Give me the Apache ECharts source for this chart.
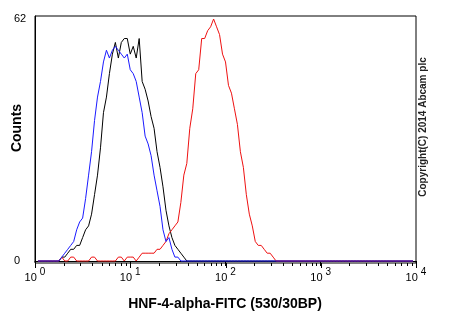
<!DOCTYPE html>
<html><head><meta charset="utf-8">
<script src="https://cdn.jsdelivr.net/npm/echarts@6/dist/echarts.min.js"></script>
<style>html,body{margin:0;padding:0;background:#fff}#c{width:450px;height:330px}</style>
</head><body><div id="c"></div>
<script>
// log channels: 32 channels per decade, 4 decades
const channelsPerDecade = 32;
const firstChannel = 1;
const lastChannel = 127;

const xTickValues = [1, 10, 100, 1000, 10000];
const xTickExponents = ['0', '1', '2', '3', '4'];
const xMinorTickValues = [2,3,4,5,6,7,8,9,20,30,40,50,60,70,80,90,200,300,400,500,600,700,800,900,2000,3000,4000,5000,6000,7000,8000,9000];
const yTickValues = [0, 62];
const yMin = -0.51;
const yMax = 62.77;

const xTitle = 'HNF-4-alpha-FITC (530/30BP)';
const yTitle = 'Counts';
const copyright = 'Copyright(C) 2014 Abcam plc';

// counts per channel, starting at the given channel
const blackStart = 9;
const blackCounts = [1,1,2,3,3,4,4,6,8,9,12,17,22,29,38,42,48,53,56,52,56,57,57,53,55,52,57,46,44,41,37,34,28,24,19,13,9,6,4,3,2,1,0];
const redStart = 9;
const redCounts = [1,0,0,1,1,0,0,0,0,0,1,1,0,0,0,0,0,0,0,1,1,0,1,1,1,0,1,2,2,2,2,2,3,3,4,5,7,8,9,10,15,22,25,34,39,48,49,57,57,59,60,62,60,58,53,51,45,43,39,35,28,24,17,12,9,5,4,4,3,2,2,1,0];
const blueStart = 8;
const blueCounts = [0,1,2,3,4,5,8,10,11,16,22,28,36,42,46,51,54,52,54,55,54,53,52,53,49,48,46,42,38,32,30,27,22,18,14,8,5,6,3,1,1,0];

function buildData(start, counts) {
  const data = [];
  for (let c = firstChannel; c <= lastChannel; c++) {
    const i = c - start;
    const v = (i >= 0 && i < counts.length) ? counts[i] : 0;
    data.push([Math.pow(10, c / channelsPerDecade), v]);
  }
  return data;
}

const FONT = '"Liberation Sans", Arial, sans-serif';
const titleGraphics = [
  {type: 'text', x: 17, y: 128, rotation: Math.PI / 2,
   style: {text: yTitle, font: 'bold 14px ' + FONT, fill: '#000', align: 'center', verticalAlign: 'middle', textAlign: 'center', textVerticalAlign: 'middle'}},
  {type: 'text', x: 225, y: 304,
   style: {text: xTitle, font: 'bold 14px ' + FONT, fill: '#000', align: 'center', verticalAlign: 'middle', textAlign: 'center', textVerticalAlign: 'middle'}},
  {type: 'text', x: 423.5, y: 127, rotation: Math.PI / 2,
   style: {text: copyright, font: 'bold 10px ' + FONT, fill: '#222', align: 'center', verticalAlign: 'middle', textAlign: 'center', textVerticalAlign: 'middle'}}
];

const chart = echarts.init(document.getElementById('c'), null, {renderer: 'canvas'});
chart.setOption({
  animation: false,
  grid: {left: 35, right: 34, top: 16, bottom: 67, show: true, borderColor: '#000', borderWidth: 1},
  xAxis: {
    type: 'log', logBase: 10, min: xTickValues[0], max: xTickValues[xTickValues.length - 1], position: 'bottom',
    axisLine: {show: true, lineStyle: {color: '#000', width: 1}},
    axisTick: {show: true, inside: false, length: 5, lineStyle: {color: '#000', width: 1}},
    minorTick: {show: false},
    splitLine: {show: false},
    axisLabel: {
      customValues: xTickValues,
      margin: 4,
      color: '#000',
      formatter: function (v) {
        let k = 0;
        for (let i = 0; i < xTickValues.length; i++) {
          if (Math.abs(Math.log10(v) - Math.log10(xTickValues[i])) < 1e-6) k = i;
        }
        return '{b|10 }{s|' + xTickExponents[k] + '}';
      },
      rich: {
        b: {fontSize: 11, fontFamily: FONT, color: '#000', padding: [5, 0, 0, 0]},
        s: {fontSize: 10, fontFamily: FONT, color: '#000', padding: [0, 0, 5, 0]}
      }
    }
  },
  yAxis: {
    type: 'value', min: yMin, max: yMax,
    axisLine: {show: true, lineStyle: {color: '#000', width: 1}},
    axisTick: {show: false},
    splitLine: {show: false},
    axisLabel: {customValues: yTickValues, align: 'left', margin: 21, fontSize: 11, fontFamily: FONT, color: '#000'}
  },
  series: [
    {type: 'line', name: 'black', data: buildData(blackStart, blackCounts), showSymbol: false, lineStyle: {color: '#000', width: 1}, itemStyle: {color: '#000'}},
    {type: 'line', name: 'red', data: buildData(redStart, redCounts), showSymbol: false, lineStyle: {color: '#ee1111', width: 1}, itemStyle: {color: '#ee1111'}},
    {type: 'line', name: 'blue', data: buildData(blueStart, blueCounts), showSymbol: false, lineStyle: {color: '#1a1aff', width: 1}, itemStyle: {color: '#1a1aff'}}
  ],
  graphic: titleGraphics
});

// ticks placed through the chart's own scales, drawn as filled 1px rects
const tickGraphics = [];
function addTicks(values, len) {
  values.forEach(function (v) {
    const p = chart.convertToPixel({gridIndex: 0}, [v, yMin]);
    if (!p || !isFinite(p[0]) || !isFinite(p[1])) return;
    const x = Math.round(p[0]);
    const y = Math.round(p[1]);
    tickGraphics.push({type: 'rect', shape: {x: x, y: y, width: 1, height: len},
                       style: {fill: '#000'}, silent: true, z: 100});
  });
}
addTicks(xTickValues, 5);
addTicks(xMinorTickValues, 3);
chart.setOption({graphic: titleGraphics.concat(tickGraphics)}, {replaceMerge: ['graphic']});
</script></body></html>
